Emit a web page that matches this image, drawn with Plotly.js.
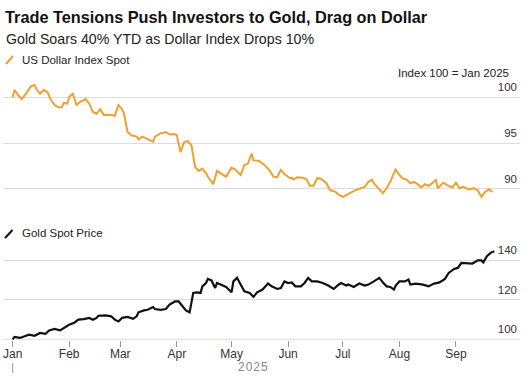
<!DOCTYPE html>
<html>
<head>
<meta charset="utf-8">
<script src="https://cdn.plot.ly/plotly-3.0.1.min.js"></script>
<style>html,body{margin:0;padding:0;background:#fff;}#chart{width:531px;height:382px;}</style>
</head>
<body>
<div id="chart"></div>
<script>
const usdDates = ["2025-01-01","2025-01-02","2025-01-04","2025-01-06","2025-01-09","2025-01-11","2025-01-13","2025-01-14","2025-01-16","2025-01-18","2025-01-20","2025-01-22","2025-01-24","2025-01-26","2025-01-28","2025-01-29","2025-01-31","2025-02-01","2025-02-03","2025-02-05","2025-02-07","2025-02-10","2025-02-12","2025-02-14","2025-02-16","2025-02-18","2025-02-20","2025-02-23","2025-02-26","2025-02-28","2025-03-02","2025-03-03","2025-03-05","2025-03-07","2025-03-10","2025-03-11","2025-03-13","2025-03-16","2025-03-19","2025-03-20","2025-03-23","2025-03-26","2025-03-28","2025-03-31","2025-04-01","2025-04-03","2025-04-05","2025-04-07","2025-04-09","2025-04-11","2025-04-13","2025-04-15","2025-04-17","2025-04-18","2025-04-21","2025-04-23","2025-04-26","2025-04-28","2025-05-01","2025-05-03","2025-05-06","2025-05-08","2025-05-10","2025-05-12","2025-05-13","2025-05-16","2025-05-19","2025-05-22","2025-05-24","2025-05-26","2025-05-28","2025-05-30","2025-06-02","2025-06-03","2025-06-04","2025-06-06","2025-06-09","2025-06-11","2025-06-13","2025-06-15","2025-06-17","2025-06-19","2025-06-22","2025-06-24","2025-06-27","2025-06-29","2025-07-01","2025-07-03","2025-07-05","2025-07-08","2025-07-13","2025-07-15","2025-07-17","2025-07-18","2025-07-21","2025-07-23","2025-07-25","2025-07-27","2025-07-29","2025-07-30","2025-08-01","2025-08-03","2025-08-05","2025-08-07","2025-08-09","2025-08-11","2025-08-13","2025-08-15","2025-08-17","2025-08-19","2025-08-21","2025-08-22","2025-08-25","2025-08-28","2025-08-30","2025-09-01","2025-09-03","2025-09-05","2025-09-08","2025-09-11","2025-09-13","2025-09-15","2025-09-17","2025-09-19","2025-09-21"];
const usdValues = [100.0,100.8,100.25,99.8,100.6,101.2,101.35,100.9,100.4,100.8,100.6,99.7,99.15,98.9,98.9,99.4,99.3,100.05,100.4,99.15,99.5,99.8,99.3,98.4,98.2,98.7,98.05,98.1,97.98,99.15,98.7,98.25,96.2,95.85,95.7,95.4,95.7,95.4,95.15,95.7,96.05,96.2,95.95,95.95,95.85,94.0,95.1,95.2,94.75,92.4,91.95,92.2,91.7,91.3,90.5,91.95,91.6,91.3,92.3,92.1,91.5,92.6,92.75,93.85,93.1,93.05,92.6,91.95,91.3,91.25,92.05,91.6,91.15,91.2,91.0,91.25,91.2,91.05,90.3,90.35,91.15,91.1,90.6,89.85,89.65,89.3,89.1,89.3,89.55,89.85,90.2,90.75,91.0,90.6,89.93,89.5,90.05,90.75,91.7,92.1,91.5,91.1,91.0,90.6,90.75,90.5,90.15,90.5,90.3,90.6,90.95,90.05,90.65,90.3,90.15,90.65,90.05,90.2,89.93,90.05,89.8,89.1,89.65,89.93,89.65];

const goldDates = ["2025-01-01","2025-01-02","2025-01-05","2025-01-08","2025-01-10","2025-01-13","2025-01-16","2025-01-19","2025-01-21","2025-01-24","2025-01-27","2025-01-30","2025-02-01","2025-02-04","2025-02-06","2025-02-09","2025-02-12","2025-02-14","2025-02-16","2025-02-17","2025-02-21","2025-02-24","2025-02-26","2025-02-28","2025-03-02","2025-03-05","2025-03-08","2025-03-10","2025-03-11","2025-03-14","2025-03-16","2025-03-19","2025-03-20","2025-03-23","2025-03-26","2025-03-28","2025-03-31","2025-04-02","2025-04-04","2025-04-06","2025-04-08","2025-04-09","2025-04-10","2025-04-12","2025-04-14","2025-04-15","2025-04-17","2025-04-18","2025-04-20","2025-04-22","2025-04-23","2025-04-25","2025-04-28","2025-05-01","2025-05-02","2025-05-04","2025-05-06","2025-05-08","2025-05-11","2025-05-13","2025-05-15","2025-05-18","2025-05-21","2025-05-23","2025-05-26","2025-05-28","2025-05-30","2025-06-01","2025-06-03","2025-06-05","2025-06-08","2025-06-10","2025-06-12","2025-06-14","2025-06-17","2025-06-20","2025-06-23","2025-06-26","2025-06-28","2025-06-30","2025-07-03","2025-07-04","2025-07-07","2025-07-10","2025-07-13","2025-07-15","2025-07-18","2025-07-21","2025-07-23","2025-07-25","2025-07-27","2025-07-29","2025-07-30","2025-08-01","2025-08-04","2025-08-06","2025-08-07","2025-08-10","2025-08-14","2025-08-17","2025-08-20","2025-08-23","2025-08-26","2025-08-28","2025-08-31","2025-09-02","2025-09-04","2025-09-07","2025-09-10","2025-09-13","2025-09-15","2025-09-16","2025-09-18","2025-09-20","2025-09-22"];
const goldValues = [100.0,101.2,100.7,101.5,102.3,101.8,103.2,102.8,104.5,105.2,104.5,106.2,107.4,108.5,109.9,110.2,110.8,109.9,110.8,111.9,112.1,111.6,109.9,109.0,110.8,111.3,110.3,111.6,113.6,114.6,114.9,116.3,115.3,114.9,115.3,117.5,119.1,119.1,116.6,114.6,113.6,118.3,123.4,123.7,123.4,126.7,128.4,130.5,129.7,125.9,128.4,127.6,126.4,123.7,129.2,131.0,127.6,124.2,123.4,121.4,123.7,125.1,128.1,126.7,125.4,125.9,129.2,128.4,128.7,126.7,126.7,128.4,131.0,129.2,129.2,128.4,127.1,125.4,127.1,128.4,127.1,127.6,126.4,128.1,127.1,127.6,129.2,131.0,128.7,126.7,126.4,125.1,127.1,129.2,129.2,130.1,127.6,128.1,127.6,126.7,128.1,128.7,130.5,133.5,135.5,136.0,138.5,138.5,138.2,139.8,139.8,138.8,141.9,143.6,144.4];

const usdTicks = [90, 95, 100];
const goldTicks = [100, 120, 140];
const xRange = ["2024-12-26 17:00", "2025-10-06 03:00"];

const titleText = "Trade Tensions Push Investors to Gold, Drag on Dollar";
const subtitleText = "Gold Soars 40% YTD as Dollar Index Drops 10%";
const usdName = "US Dollar Index Spot";
const goldName = "Gold Spot Price";
const noteText = "Index 100 = Jan 2025";
const yearText = "2025";

const W = 531, H = 382;
const mL = 3, mR = 11, mT = 74, mB = 42;
const pw = W - mL - mR, ph = H - mT - mB;
const px = x => (x - mL) / pw;
const py = y => (H - mB - y) / ph;

const orange = "#F0A030";
const FONT = "Liberation Sans, Arial, sans-serif";

const traces = [
  {x: usdDates, y: usdValues, xaxis: "x", yaxis: "y", type: "scatter", mode: "lines",
   line: {color: orange, width: 2}, name: usdName, hoverinfo: "skip"},
  {x: goldDates, y: goldValues, xaxis: "x", yaxis: "y2", type: "scatter", mode: "lines",
   line: {color: "#111111", width: 2.2}, name: goldName, hoverinfo: "skip"}
];

const yCommon = {
  side: "right", ticklabelposition: "inside", ticks: "", showline: false, zeroline: false,
  showgrid: true, gridcolor: "#dcdcdc", gridwidth: 1,
  tickfont: {family: FONT, size: 11.5, color: "#333"}, fixedrange: true
};

const layout = {
  width: W, height: H,
  margin: {l: mL, r: mR, t: mT, b: mB, pad: 0},
  paper_bgcolor: "#fff", plot_bgcolor: "#fff",
  showlegend: false,
  font: {family: FONT, color: "#222"},
  title: {text: "<b>" + titleText + "</b>", x: 5 / W, xanchor: "left", xref: "container",
          y: 1 - 17 / H, yanchor: "middle", yref: "container",
          font: {family: FONT, size: 16.3, color: "#111"}},
  xaxis: {
    anchor: "y2", range: xRange, type: "date", tickformat: "%b", dtick: "M1", tick0: "2025-01-01",
    ticks: "outside", ticklen: 6, tickcolor: "#999", tickwidth: 1, ticklabelstandoff: -3,
    showgrid: false, zeroline: false, showline: false,
    tickfont: {family: FONT, size: 12, color: "#333"}, fixedrange: true
  },
  yaxis: Object.assign({}, yCommon, {domain: [py(202), 1], range: [88.545, 102.549], tickvals: usdTicks,
           ticktext: usdTicks.map(String), ticklabelshift: -10}),
  yaxis2: Object.assign({}, yCommon, {domain: [0, py(242)], range: [99.65, 149.08], tickvals: goldTicks,
           ticktext: goldTicks.map(String), ticklabelshift: -10}),
  annotations: [
    {text: subtitleText, xref: "paper", yref: "paper", x: px(4), y: py(39), xanchor: "left", yanchor: "middle",
     showarrow: false, font: {family: FONT, size: 14.2, color: "#222"}},
    {text: usdName, xref: "paper", yref: "paper", x: px(20), y: py(60), xanchor: "left", yanchor: "middle",
     showarrow: false, font: {family: FONT, size: 11.5, color: "#222"}},
    {text: noteText, xref: "paper", yref: "paper", x: px(511), y: py(73), xanchor: "right", yanchor: "middle",
     showarrow: false, font: {family: FONT, size: 11.5, color: "#222"}},
    {text: goldName, xref: "paper", yref: "paper", x: px(20), y: py(233), xanchor: "left", yanchor: "middle",
     showarrow: false, font: {family: FONT, size: 11.5, color: "#222"}},
    {text: yearText.split("").join("\u200A"), xref: "paper", yref: "paper", x: px(253), y: py(367), xanchor: "center", yanchor: "middle",
     showarrow: false, font: {family: FONT, size: 12, color: "#888"}}
  ],
  shapes: [
    {type: "line", xref: "paper", yref: "paper", x0: px(6), y0: py(64), x1: px(13), y1: py(56),
     line: {color: orange, width: 2}},
    {type: "line", xref: "paper", yref: "paper", x0: px(5), y0: py(238), x1: px(12.5), y1: py(230),
     line: {color: "#111", width: 2}},
    {type: "line", xref: "x", yref: "paper", x0: "2025-01-01", x1: "2025-01-01", y0: py(363), y1: py(373),
     line: {color: "#999", width: 1}},
    {type: "line", xref: "paper", yref: "y2", x0: 0, x1: 1, y0: goldTicks[0], y1: goldTicks[0],
     line: {color: "#dcdcdc", width: 1}, layer: "below"}
  ]
};

Plotly.newPlot("chart", traces, layout, {staticPlot: true, displayModeBar: false});
</script>
</body>
</html>
